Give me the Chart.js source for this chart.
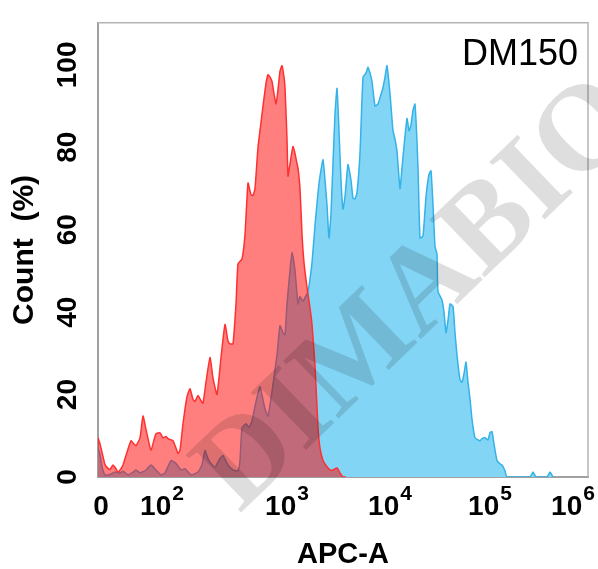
<!DOCTYPE html>
<html>
<head>
<meta charset="utf-8">
<script src="https://cdn.jsdelivr.net/npm/chart.js@4.4.0/dist/chart.umd.min.js"></script>
<style>
  html, body { margin: 0; padding: 0; background: #ffffff; }
  #wrap { width: 598px; height: 569px; position: relative; }
</style>
</head>
<body>
<div id="wrap"><canvas id="c"></canvas></div>
<script>
// ---- data (x = display channel on the biexponential APC-A axis, y = Count %) ----
const redChannels = [0,2,5,7,10,12,15,18,20,23,25,29,33,36,38,42,45,48,50,53,56,58,62,65,68,70,73,75,78,80,82,85,89,92,95,97,100,103,105,108,112,115,119,123,127,130,132,135,138,140,144,147,150,153,155,157,160,163,165,168,170,172,174,176,178,180,182,184,186,187,189,190,192,195,197,199,200,202,204,206,209,212,214,217,220,222,225,228,232,235,239,242,245,248];
const redCounts = [9.5,8,5,3,2.1,1.8,2.9,2,1.2,2,2.9,6,8.8,8,7.6,9.5,14.8,11.5,9.3,6.4,9,10.5,10.7,9.5,9.8,9.3,9,8.8,7,5.7,6.5,12.9,19.5,21.4,18.8,18.3,19.8,18.5,17.9,23,29,24,20,29,37,33,32.3,32.3,42,51.7,52.9,58.8,71.3,68.5,68.3,70,80,86,90,95.5,97.6,97,96,93,90.5,94,98.5,99.8,97,94.5,82,73,76,80.2,78.5,76,75,70,59,52,46,41,37,27,12,7,4,2.8,1.7,1.7,2.2,1,0,0];

const blueChannels = [0,2,4,7,12,17,22,25,30,34,38,42,48,53,58,63,67,73,78,83,87,93,100,104,107,110,112,117,122,125,130,135,140,142,144,148,151,154,158,162,167,170,174,177,179,182,185,187,189,192,194,197,200,202,205,207,210,212,214,217,220,222,225,227,229,231,233,235,237,239,241,243,245,247,250,253,255,257,259,262,265,268,270,272,274,277,280,282,285,287,289,292,295,297,299,302,304,306,309,311,313,315,317,320,322,325,328,331,333,335,337,339,340,344,346,348,350,352,355,357,359,362,364,366,368,370,372,374,377,380,382,384,387,390,392,394,396,399,402,404,407,409,432,435,438,449,452,455];
const blueCounts = [7,5.5,2.5,0.5,0.6,1.2,1,1.4,0.5,1,1.7,1,1.7,2.9,1.7,0.5,1,4,3.3,1.7,2,0.5,1.2,3,6.4,4.5,3.6,2.4,4.5,5.2,2.9,1.7,1.5,4,11.9,12.9,12,13.6,18.3,21.9,16.5,14.8,20.7,26,29.5,36.7,35,34.5,42,50,54.5,50,42,43.8,42.6,43.5,45,48,52,61,69,73,77,72,66,58,64,76.2,88,94.3,84,72,65,68,75.8,72,67.6,67.5,69,78.6,97,98,99.5,98,96,90,90.5,92,94.5,97,99.8,93,84,82,79,70,75,80.2,87,84,85.4,89,90.5,75,58,58.5,68,73.5,74.3,66,56,54,45,42.9,40,35,38,42,41.4,35,29.5,23.6,23,25,27.9,23,19,14,9.5,9,8.8,9.3,9.5,9,10.8,11,8,4,3.2,2.9,1.5,0,0,1.2,0,0,1.2,0];

const xTickChannels = [3, 64, 189, 292, 392, 475];
const xTickBase = ['0', '10', '10', '10', '10', '10'];
const xTickExp = ['', '2', '3', '4', '5', '6'];
const yTickValues = [0, 20, 40, 60, 80, 100];

const sampleName = 'DM150';
const watermarkText = 'DIMABIO';
const xTitle = 'APC-A';
const yTitle = 'Count  (%)';

function toPoints(xs, ys) { return xs.map((x, i) => ({ x: x, y: ys[i] })); }

// ---- plugins ----
const framePlugin = {
  id: 'frame',
  afterDatasetsDraw(chart) {
    const { ctx, chartArea: a } = chart;
    ctx.save();
    ctx.strokeStyle = '#b4b4b4';
    ctx.lineWidth = 1.5;
    ctx.beginPath();
    ctx.moveTo(a.left, a.top);
    ctx.lineTo(a.right, a.top);
    ctx.lineTo(a.right, a.bottom);
    ctx.stroke();
    ctx.restore();
  }
};

const xLabelPlugin = {
  id: 'xLabels',
  afterDraw(chart) {
    const ctx = chart.ctx;
    const xs = chart.scales.x;
    const baseFont = 'bold 28px "Liberation Sans", Arial, sans-serif';
    const expFont = 'bold 21px "Liberation Sans", Arial, sans-serif';
    ctx.save();
    ctx.fillStyle = '#000';
    ctx.textBaseline = 'alphabetic';
    ctx.textAlign = 'left';
    xTickChannels.forEach((v, i) => {
      const px = xs.getPixelForValue(v);
      ctx.font = baseFont;
      const wb = ctx.measureText(xTickBase[i]).width;
      ctx.font = expFont;
      const we = xTickExp[i] ? ctx.measureText(xTickExp[i]).width + 1 : 0;
      const start = px - (wb + we) / 2;
      ctx.font = baseFont;
      ctx.fillText(xTickBase[i], start, 515);
      if (xTickExp[i]) {
        ctx.font = expFont;
        ctx.fillText(xTickExp[i], start + wb + 1, 500);
      }
    });
    ctx.restore();
  }
};

const textPlugin = {
  id: 'texts',
  afterDraw(chart) {
    const ctx = chart.ctx;
    ctx.save();
    ctx.fillStyle = '#000';
    ctx.font = 'normal 36px "Liberation Sans", Arial, sans-serif';
    ctx.textAlign = 'right';
    ctx.textBaseline = 'alphabetic';
    ctx.fillText(sampleName, 578, 65);
    // watermark
    ctx.translate(420, 296);
    ctx.rotate(-44 * Math.PI / 180);
    ctx.font = 'bold 122px "Liberation Serif", "Times New Roman", serif';
    ctx.fillStyle = 'rgba(0,0,0,0.13)';
    ctx.textAlign = 'center';
    ctx.textBaseline = 'middle';
    ctx.fillText(watermarkText, 0, 0);
    ctx.restore();
  }
};

new Chart(document.getElementById('c'), {
  type: 'line',
  data: {
    datasets: [
      {
        label: 'Control',
        data: toPoints(redChannels, redCounts),
        borderColor: '#ff3030',
        backgroundColor: 'rgba(255,0,0,0.5)',
        borderWidth: 1.5,
        fill: 'origin',
        pointRadius: 0,
        tension: 0.15
      },
      {
        label: sampleName,
        data: toPoints(blueChannels, blueCounts),
        borderColor: '#35b2e8',
        backgroundColor: 'rgb(130,213,245)',
        borderWidth: 1.5,
        fill: 'origin',
        pointRadius: 0,
        tension: 0.15
      }
    ]
  },
  options: {
    responsive: true,
    maintainAspectRatio: false,
    animation: false,
    layout: { padding: { left: 0, right: 10, top: 14, bottom: 0 } },
    plugins: { legend: { display: false }, tooltip: { enabled: false } },
    scales: {
      x: {
        type: 'linear',
        min: 0,
        max: 490,
        grid: { display: false, drawTicks: false },
        border: { display: true, color: '#a0a0a0', width: 2 },
        ticks: { display: false },
        title: {
          display: true,
          text: xTitle,
          color: '#000',
          font: { family: '"Liberation Sans", Arial, sans-serif', size: 29, weight: 'bold', lineHeight: 1 },
          padding: 0
        },
        afterFit(s) { s.height = 92; }
      },
      y: {
        type: 'linear',
        min: 0,
        max: 110.2,
        afterBuildTicks(s) { s.ticks = yTickValues.map(v => ({ value: v })); },
        grid: { display: false, drawTicks: false },
        border: { display: true, color: '#a0a0a0', width: 2 },
        ticks: {
          color: '#000',
          font: { family: '"Liberation Sans", Arial, sans-serif', size: 28, weight: 'bold' },
          minRotation: 90,
          maxRotation: 90,
          crossAlign: 'center',
          padding: 6
        },
        title: {
          display: true,
          text: yTitle,
          color: '#000',
          font: { family: '"Liberation Sans", Arial, sans-serif', size: 30, weight: 'bold', lineHeight: 1.2 },
          padding: { top: 7, bottom: 0 }
        },
        afterFit(s) { s.width = 98; }
      }
    }
  },
  plugins: [framePlugin, xLabelPlugin, textPlugin]
});
</script>
</body>
</html>
